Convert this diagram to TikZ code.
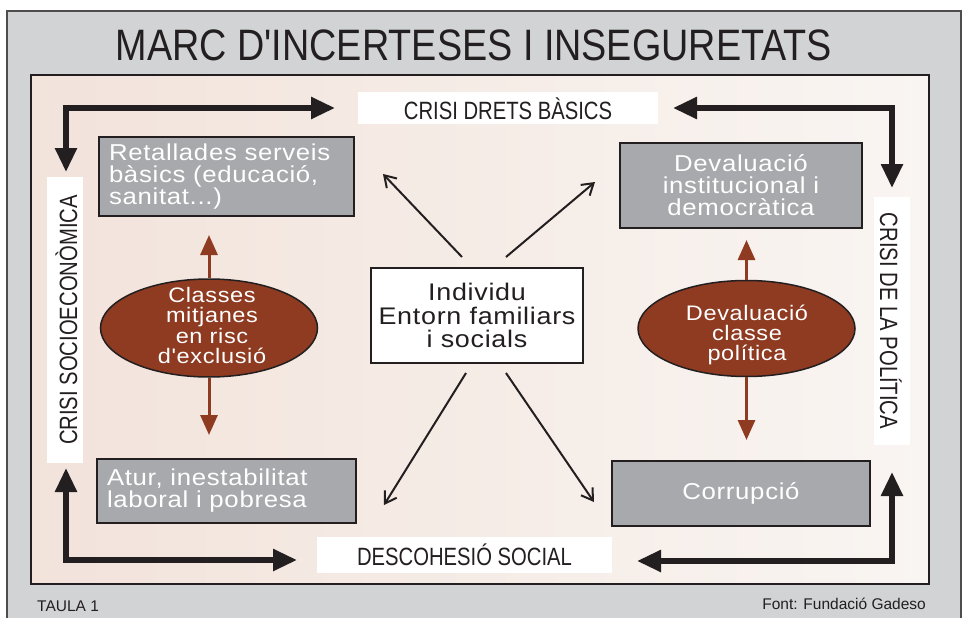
\documentclass[tikz,border=0pt]{standalone}
\usepackage{fontspec}
\setmainfont{Liberation Sans}
\newfontfamily\condfont[FakeStretch=0.81]{Liberation Sans}
\newfontfamily\titlefont[FakeStretch=0.858]{Liberation Sans}
\newfontfamily\widefont[FakeStretch=1.12,LetterSpace=3]{Liberation Sans}
\usetikzlibrary{arrows.meta,shapes.geometric}
\definecolor{framegray}{HTML}{D1D3D4}
\definecolor{boxgray}{HTML}{A7A9AC}
\definecolor{ellbrown}{HTML}{8E3B22}
\definecolor{ink}{HTML}{231F20}
\definecolor{bgleft}{HTML}{F2E3DB}
\definecolor{bgright}{HTML}{F9F5F2}
\tikzset{
  lbl/.style={fill=white, inner sep=0pt, text=ink,
    font=\condfont\fontsize{25}{26}\selectfont},
  gbox/.style={fill=boxgray, draw=ink, line width=1.5pt, text=white, inner sep=0pt,
    font=\widefont\fontsize{23}{22}\selectfont},
  cbox/.style={fill=white, draw=ink, line width=2pt, text=ink, inner sep=0pt, align=center,
    font=\widefont\fontsize{24}{23.5}\selectfont},
  ellnode/.style={ellipse, fill=ellbrown, draw=ink, line width=1.5pt, inner sep=0pt},
  elltext/.style={text=white, align=center, inner sep=0pt,
    font=\widefont\fontsize{21}{20.3}\selectfont},
  bigarrow/.style={draw=ink, line width=5.5pt, line join=miter,
    {Triangle[length=24pt,width=21pt]}-{Triangle[length=24pt,width=21pt]}},
  brownarrow/.style={draw=ellbrown, line width=3pt, -{Triangle[length=20pt,width=17pt]}},
  thinarrow/.style={draw=ink, line width=2pt, -{Straight Barb[length=11pt,width=14pt,line width=2pt]}},
  foot/.style={text=ink, inner sep=0pt, font=\fontsize{15.5}{15.5}\selectfont}
}
\begin{document}
\begin{tikzpicture}[x=1pt,y=-1pt]
\useasboundingbox (0,0) rectangle (967,618);
\fill[white] (0,0) rectangle (967,618);
% outer frame
\draw[fill=framegray, draw=ink!80, line width=2pt] (7,11) rectangle (961,640);
\node[anchor=base, text=ink, inner sep=0pt, font=\titlefont\fontsize{44}{44}\selectfont] (title) at (474,61) {MARC D'INCERTESES I INSEGURETATS};
% inner frame
\shade[left color=bgleft, right color=bgright] (31,75) rectangle (929,584);
\draw[draw=ink, line width=2.5pt] (31,75) rectangle (929,584);
% labels
\node[lbl, minimum width=300pt, minimum height=32pt, text height=22pt, text depth=0pt] (top) at (508,108) {CRISI DRETS BÀSICS};
\node[lbl, minimum width=295pt, minimum height=36pt, text height=20pt, text depth=0pt] (bot) at (464.5,555) {DESCOHESIÓ SOCIAL};
\node[lbl, rotate=90, minimum width=286pt, minimum height=36pt, text height=24pt, text depth=0pt] (left) at (65,320) {CRISI SOCIOECONÒMICA};
\node[lbl, rotate=-90, minimum width=248pt, minimum height=36pt, text height=24pt, text depth=0pt] (right) at (892,321) {CRISI DE LA POLÍTICA};
% corner arrows
\coordinate (tl1) at (335,108); \coordinate (tl2) at (66,172);
\coordinate (tr1) at (673,108); \coordinate (tr2) at (892,188);
\coordinate (bl1) at (66,468);  \coordinate (bl2) at (297,560);
\coordinate (br1) at (637,561); \coordinate (br2) at (892,472);
\draw[bigarrow] (tl1) -| (tl2);
\draw[bigarrow] (tr1) -| (tr2);
\draw[bigarrow] (bl1) |- (bl2);
\draw[bigarrow] (br1) -| (br2);
% gray boxes
\node[gbox, minimum width=255pt, minimum height=79pt, text width=235pt, align=left] (ret) at (226.5,176.5) {Retallades serveis\\bàsics (educació,\\sanitat...)};
\node[gbox, minimum width=242pt, minimum height=85pt, align=center] (dev) at (741,185.5) {Devaluació\\institucional i\\democràtica};
\node[gbox, minimum width=259pt, minimum height=64pt, text width=239pt, align=left] (atur) at (226.5,491) {Atur, inestabilitat\\laboral i pobresa};
\node[gbox, minimum width=258pt, minimum height=65pt, align=center] (cor) at (741,493.5) {Corrupció};
% center box
\node[cbox, minimum width=212pt, minimum height=95pt] (ind) at (477,315.5) {Individu\\Entorn familiars\\i socials};
% ellipses
\node[ellnode, minimum width=217pt, minimum height=98pt] (e1) at (209,328) {};
\node[elltext] (e1t) at (212,325.5) {Classes\\mitjanes\\en risc\\d'exclusió};
\node[ellnode, minimum width=217pt, minimum height=96pt] (e2) at (746.5,328.5) {};
\node[elltext] (e2t) at (747,335) {Devaluació\\classe\\política};
% brown arrows
\coordinate (e1u) at (209,235); \coordinate (e1d) at (209,435);
\coordinate (e2u) at (746.5,240); \coordinate (e2d) at (746.5,440);
\draw[brownarrow] (e1.north) -- (e1u);
\draw[brownarrow] (e1.south) -- (e1d);
\draw[brownarrow] (e2.north) -- (e2u);
\draw[brownarrow] (e2.south) -- (e2d);
% diagonal arrows
\coordinate (ul0) at (462,257); \coordinate (ul1) at (383,174);
\coordinate (ur0) at (506,257); \coordinate (ur1) at (595,182);
\coordinate (ll0) at (466,373); \coordinate (ll1) at (384,505);
\coordinate (lr0) at (506,373); \coordinate (lr1) at (594,502);
\draw[thinarrow] (ul0) -- (ul1);
\draw[thinarrow] (ur0) -- (ur1);
\draw[thinarrow] (ll0) -- (ll1);
\draw[thinarrow] (lr0) -- (lr1);
% footer
\node[foot, anchor=base west] (taula) at (37,611) {TAULA 1};
\node[foot, anchor=base east] (font) at (926,609) {Font: Fundació Gadeso};
\end{tikzpicture}
\end{document}
